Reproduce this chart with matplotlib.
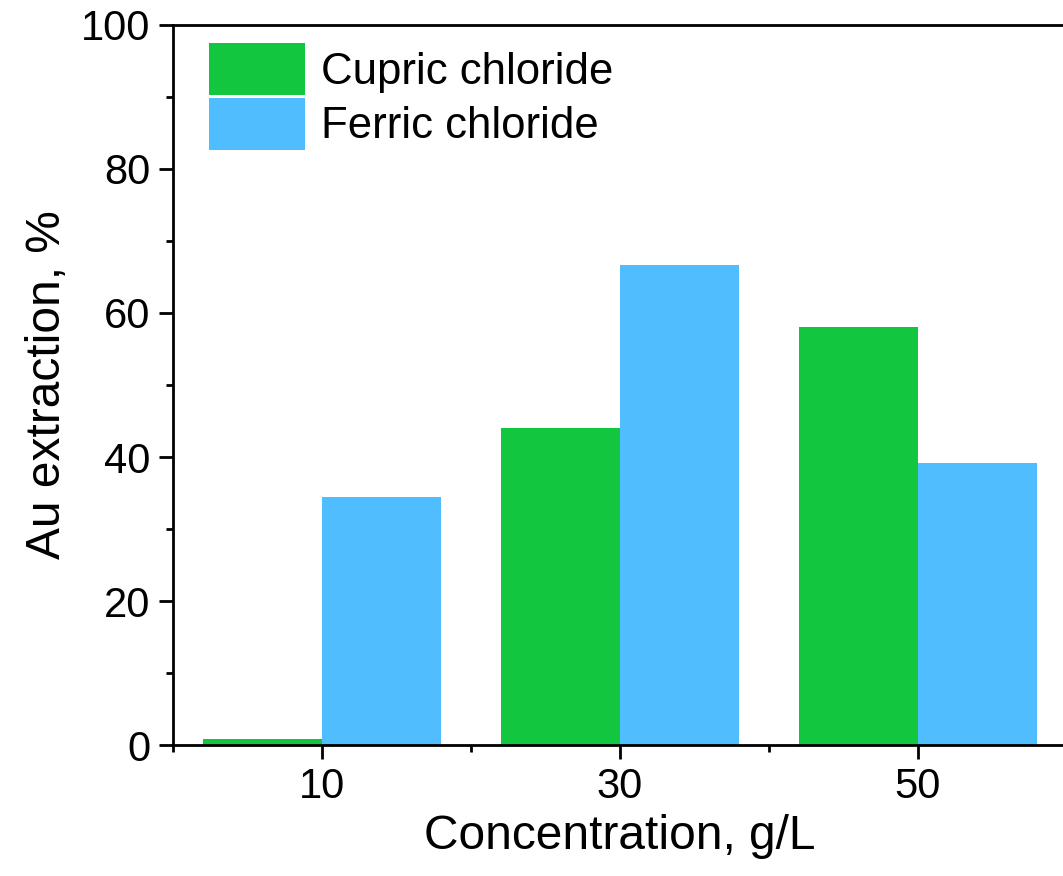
import numpy as np
import matplotlib
matplotlib.use('Agg')
import matplotlib.pyplot as plt
from matplotlib.ticker import MultipleLocator, FixedLocator

# 데이터
concentrations = ['10', '30', '50']
cupric = [0.9, 44.0, 58.0]
ferric = [34.4, 66.6, 39.1]

plt.rcParams['font.family'] = ['Liberation Sans', 'DejaVu Sans']

fig = plt.figure(figsize=(10.63, 8.76), dpi=100)
ax = fig.add_axes([0.1627, 0.1495, 0.841, 0.822])

x = np.arange(len(concentrations))
w = 0.4
ax.bar(x - w / 2, cupric, width=w, color='#13C63F', label='Cupric chloride')
ax.bar(x + w / 2, ferric, width=w, color='#50BDFE', label='Ferric chloride')

ax.set_xlim(-0.5, 2.5)
ax.set_ylim(0, 100)
ax.set_xticks(x)
ax.set_xticklabels(concentrations)
ax.xaxis.set_minor_locator(FixedLocator([-0.5, 0.5, 1.5]))
ax.yaxis.set_major_locator(MultipleLocator(20))
ax.yaxis.set_minor_locator(MultipleLocator(10))

for s in ['left', 'bottom', 'top']:
    ax.spines[s].set_linewidth(2)
ax.spines['right'].set_visible(False)

ax.tick_params(which='major', length=10, width=2, labelsize=30, direction='out', pad=6)
ax.tick_params(which='minor', length=5, width=2, direction='out')

ax.set_xlabel('Concentration, g/L', fontsize=34.5, labelpad=5)
ax.set_ylabel('Au extraction, %', fontsize=34.5, labelpad=8)

ax.legend(loc='upper left', bbox_to_anchor=(0.04, 0.975), frameon=False, fontsize=31.5,
          borderaxespad=0, borderpad=0, handlelength=2.2, handleheight=1.46,
          handletextpad=0.37, labelspacing=0.06)

fig.savefig('out.png', dpi=100)
